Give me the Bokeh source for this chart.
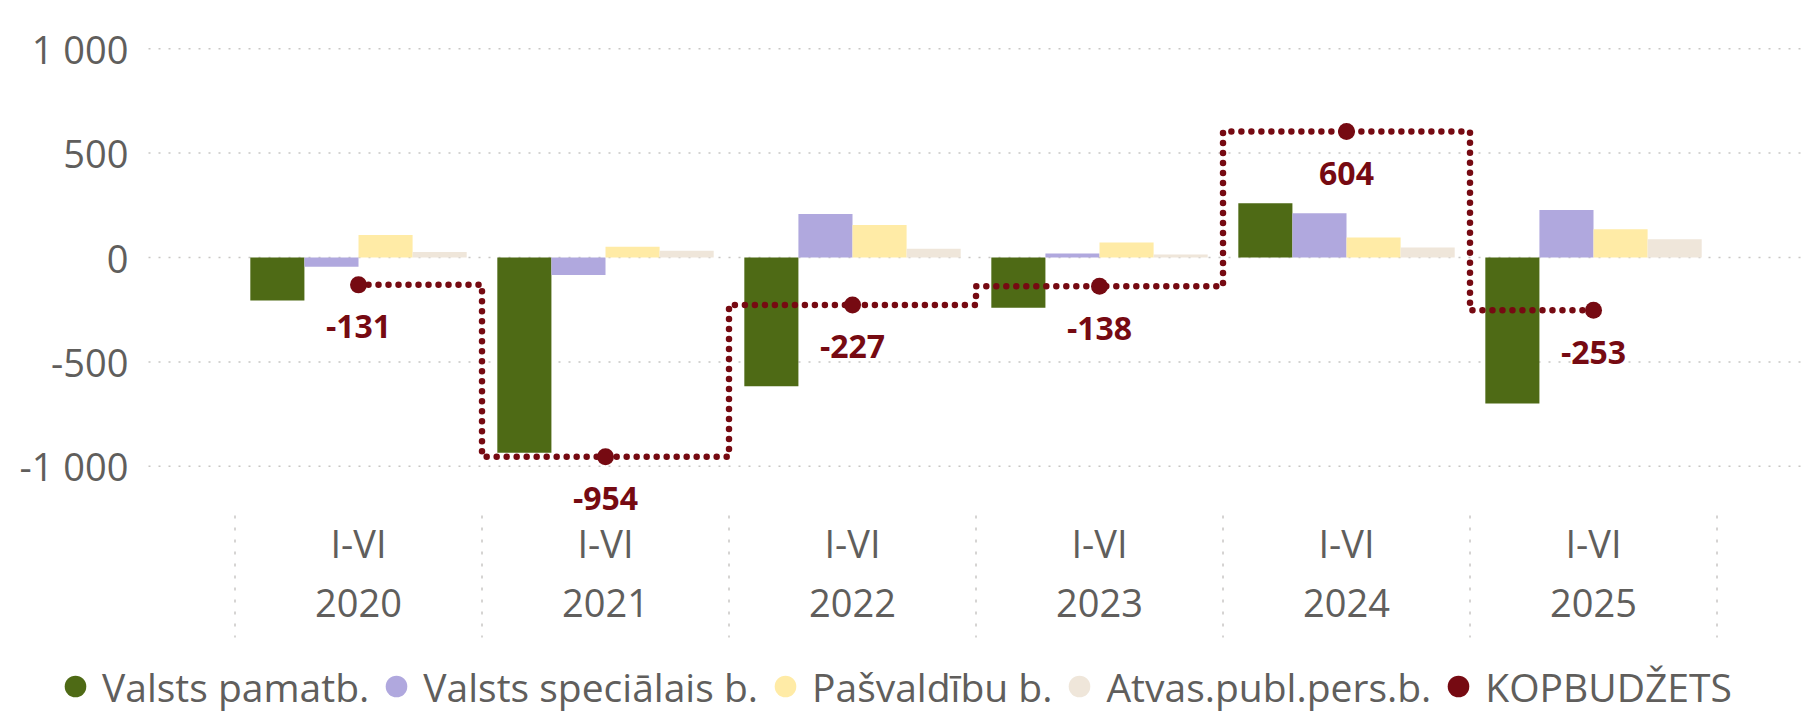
from bokeh.plotting import figure
from bokeh.models import ColumnDataSource, Range1d, FixedTicker, Legend, LegendItem
from bokeh.transform import dodge
from bokeh.core.properties import value
from bokeh.embed import file_html
from bokeh.resources import INLINE

# ---------------- data ----------------
years = ["2020", "2021", "2022", "2023", "2024", "2025"]
period = ["I-VI", "I-VI", "I-VI", "I-VI", "I-VI", "I-VI"]
valsts_pamatb = [-206, -935, -616, -241, 260, -699]
valsts_specialais = [-44, -84, 208, 19, 212, 227]
pasvaldibu = [108, 51, 156, 72, 96, 135]
atvas_publ = [27, 32, 42, 14, 48, 87]
kopbudzets = [-131, -954, -227, -138, 604, -253]
series_names = ["Valsts pamatb.", "Valsts speciālais b.", "Pašvaldību b.",
                "Atvas.publ.pers.b.", "KOPBUDŽETS"]
y_ticks = [-1000, -500, 0, 500, 1000]
y_tick_labels = ["-1 000", "-500", "0", "500", "1 000"]

# ---------------- style / layout ----------------
FONT = "Open Sans"
GREY = "#605E5C"
GRID = "#C8C6C4"
colors = ["#4E6A15", "#B0A8DE", "#FFEBA6", "#EFE6DA", "#760A12"]
BAR_W = 0.219
offsets = [-1.5 * BAR_W, -0.5 * BAR_W, 0.5 * BAR_W, 1.5 * BAR_W]
X_START, X_END = -1.4494, 5.8542      # category index range across the frame
AXIS_X = -0.8502                      # where the value axis sits
Y_START, Y_END = -2184, 1231
ROW1_Y, ROW2_Y = -1365, -1657
SEP_TOP, SEP_BOT = -1236, -1820

xs = list(range(len(years)))
src = ColumnDataSource(dict(
    x=xs, year=years, period=period,
    s0=valsts_pamatb, s1=valsts_specialais, s2=pasvaldibu, s3=atvas_publ,
    kop=kopbudzets, kop_lbl=[str(v) for v in kopbudzets],
))

p = figure(width=1804, height=713,
           x_range=Range1d(X_START, X_END), y_range=Range1d(Y_START, Y_END),
           output_backend="svg", toolbar_location=None,
           min_border_left=0, min_border_right=0,
           min_border_top=0, min_border_bottom=0)
p.outline_line_color = None
p.background_fill_color = "white"
p.border_fill_color = "white"
p.xaxis.visible = False
p.grid.visible = False

# value axis
yax = p.yaxis[0]
yax.fixed_location = AXIS_X
yax.ticker = FixedTicker(ticks=y_ticks)
yax.major_label_overrides = {t: l for t, l in zip(y_ticks, y_tick_labels)}
yax.axis_line_color = None
yax.major_tick_line_color = None
yax.minor_tick_line_color = None
yax.major_tick_out = 0
yax.major_tick_in = 0
yax.major_label_standoff = 20
yax.major_label_text_font = FONT
yax.major_label_text_font_size = "38px"
yax.major_label_text_color = GREY

# grid lines (from the axis to the right edge)
p.segment(x0=AXIS_X, x1=X_END, y0=y_ticks, y1=y_ticks, line_color=GRID,
          line_dash="2 8", line_width=1.5)

# bars
for i, col in enumerate(["s0", "s1", "s2", "s3"]):
    p.vbar(x=dodge("x", offsets[i]), top=col, bottom=0,
           width=BAR_W, source=src, fill_color=colors[i], line_color=None)

# total step line
p.step(x="x", y="kop", mode="center", source=src, line_color=colors[4],
       line_width=6.5, line_dash="0 10", line_cap="round")
kop_pts = p.scatter(x="x", y="kop", source=src, size=17, marker="circle",
                    fill_color=colors[4], line_color=None)
p.text(x="x", y="kop", text="kop_lbl", source=src, y_offset=42,
       text_font=value(FONT), text_font_style="bold", text_font_size="32px",
       text_color=colors[4], text_align="center", text_baseline="middle")

# category labels and separators
p.text(x="x", y=ROW1_Y, text="period", source=src,
       text_font=value(FONT), text_font_size="38px", text_color=GREY,
       text_align="center", text_baseline="middle")
p.text(x="x", y=ROW2_Y, text="year", source=src,
       text_font=value(FONT), text_font_size="38px", text_color=GREY,
       text_align="center", text_baseline="middle")
edges = [i - 0.5 for i in range(len(years) + 1)]
p.segment(x0=edges, x1=edges, y0=SEP_TOP, y1=SEP_BOT,
          line_color=GRID, line_dash="3 9", line_width=1.5)

# legend (circle markers)
series_vals = [valsts_pamatb, valsts_specialais, pasvaldibu, atvas_publ]
items = []
for i in range(4):
    r = p.scatter(x=xs, y=series_vals[i], size=0, marker="circle",
                  fill_color=colors[i], line_color=None)
    items.append(LegendItem(label=series_names[i], renderers=[r]))
items.append(LegendItem(label=series_names[4], renderers=[kop_pts]))
legend = Legend(items=items, orientation="horizontal", location=(48, 0),
                glyph_width=54, glyph_height=54, label_standoff=0, spacing=0,
                padding=0, margin=0, border_line_color=None,
                background_fill_alpha=0,
                label_text_font=FONT, label_text_font_size="39px",
                label_text_color=GREY)
p.add_layout(legend, "center")

open("out.html", "w").write(file_html(p, INLINE))
